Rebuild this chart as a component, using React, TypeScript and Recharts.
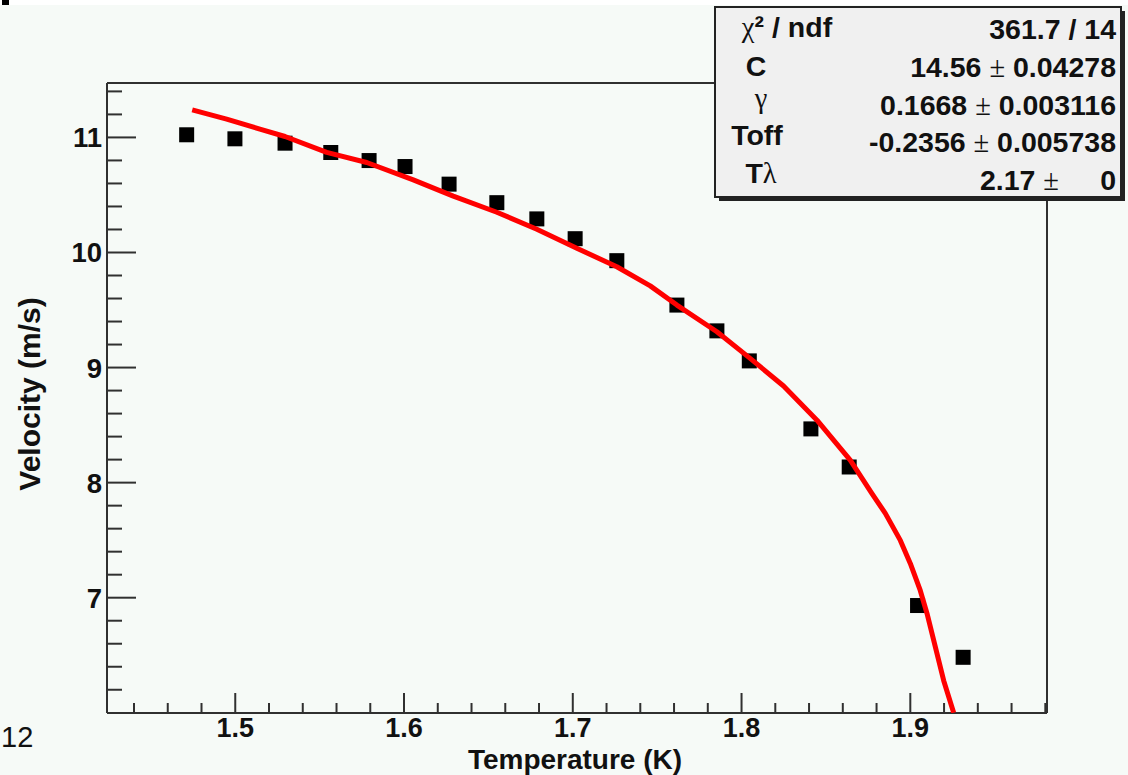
import React from 'react';
import { ScatterChart, Scatter, XAxis, YAxis, ReferenceLine } from 'recharts';

// Measured data (Temperature in K, Velocity in m/s)
const temperature = [1.4712, 1.4998, 1.5295, 1.5566, 1.5793, 1.6006, 1.6267, 1.655, 1.6787, 1.7014, 1.7261, 1.7617, 1.7854, 1.8046, 1.8411, 1.8638, 1.9043, 1.9313];
const velocity = [11.023, 10.988, 10.95, 10.869, 10.799, 10.747, 10.594, 10.433, 10.292, 10.12, 9.929, 9.543, 9.319, 9.058, 8.467, 8.136, 6.932, 6.482];

// Fit curve
const fitT = [1.4745, 1.4949, 1.5146, 1.5295, 1.5542, 1.5779, 1.6055, 1.6292, 1.655, 1.6787, 1.7024, 1.7261, 1.7459, 1.7617, 1.7854, 1.8051, 1.8249, 1.8447, 1.8644, 1.8773, 1.8852, 1.8941, 1.9, 1.9059, 1.9099, 1.9198, 1.9257];
const fitV = [11.24, 11.159, 11.072, 11.008, 10.87, 10.782, 10.631, 10.49, 10.35, 10.202, 10.037, 9.876, 9.71, 9.543, 9.311, 9.08, 8.84, 8.543, 8.195, 7.904, 7.733, 7.498, 7.298, 7.063, 6.863, 6.279, 6.0];

const xMajor = [1.5, 1.6, 1.7, 1.8, 1.9];
const xMinor = [1.44, 1.46, 1.48, 1.52, 1.54, 1.56, 1.58, 1.62, 1.64, 1.66, 1.68, 1.72, 1.74, 1.76, 1.78, 1.82, 1.84, 1.86, 1.88, 1.92, 1.94, 1.96, 1.98];
const yMajor = [7, 8, 9, 10, 11];
const yMinor = [6.2, 6.4, 6.6, 6.8, 7.2, 7.4, 7.6, 7.8, 8.2, 8.4, 8.6, 8.8, 9.2, 9.4, 9.6, 9.8, 10.2, 10.4, 10.6, 10.8, 11.2, 11.4];
const xDomain = [1.424, 1.981];
const yDomain = [5.998, 11.473];

const statLabels = ['χ² / ndf', 'C', 'γ', 'Toff', 'Tλ'];
const statValues = ['361.7 / 14', '14.56 ± 0.04278', '0.1668 ± 0.003116', '-0.2356 ± 0.005738', '2.17 ±', '0'];

const points = temperature.map((t, i) => ({ t, v: velocity[i] }));
const fit = fitT.map((t, i) => ({ t, v: fitV[i] }));

const FONT = '"Liberation Sans", Arial, Helvetica, sans-serif';
const AX = '#303030';

const isMajor = (arr: number[], v: number) => arr.some((m) => Math.abs(m - v) < 1e-6);

const XTick = (props: any) => {
  const { x, y, payload } = props;
  const major = isMajor(xMajor, payload.value);
  const len = major ? 20 : 10;
  return (
    <g>
      <line x1={x} y1={y} x2={x} y2={y - len} stroke={AX} strokeWidth={2} />
      {major && (
        <text x={x} y={y + 24} textAnchor="middle" fontFamily={FONT} fontWeight="bold" fontSize={27} fill="#111">
          {payload.value.toFixed(1)}
        </text>
      )}
    </g>
  );
};

const YTick = (props: any) => {
  const { x, y, payload } = props;
  const major = isMajor(yMajor, payload.value);
  const len = major ? 29 : 15;
  return (
    <g>
      <line x1={x} y1={y} x2={x + len} y2={y} stroke={AX} strokeWidth={2} />
      {major && (
        <text x={x - 5} y={y + 10} textAnchor="end" fontFamily={FONT} fontWeight="bold" fontSize={27.5} fill="#111">
          {String(payload.value)}
        </text>
      )}
    </g>
  );
};

const Square = (props: any) => {
  const { cx, cy } = props;
  return <rect x={cx - 7.5} y={cy - 7.5} width={15} height={15} fill="#000" />;
};

const NoShape = () => <g />;

const serif = '"Liberation Serif", "DejaVu Serif", serif';

export default function App() {
  const labelX = [787, 756, 761, 757, 761];
  const labelY = [37, 76, 108, 145, 183];
  const valueY = [39, 77, 115, 152, 190];
  const SF = 28.5;
  const renderValue = (s: string) => {
    const parts = s.split('±');
    if (parts.length === 1) return s;
    return (
      <>
        {parts[0]}
        <tspan fontFamily={serif} fontWeight="normal">±</tspan>
        {parts[1]}
      </>
    );
  };
  const renderLabel = (s: string) => {
    const out: any[] = [];
    for (let i = 0; i < s.length; i++) {
      const c = s[i];
      if (c === 'χ' || c === 'γ' || c === 'λ') {
        out.push(
          <tspan key={i} fontFamily={serif} fontWeight="normal">{c}</tspan>
        );
      } else {
        out.push(<tspan key={i}>{c}</tspan>);
      }
    }
    return out;
  };
  return (
    <div style={{ position: 'absolute', left: 0, top: 0, width: 1128, height: 775, background: '#f6faf7', overflow: 'hidden' }}>
      <ScatterChart width={1128} height={775} margin={{ top: 83, right: 81, left: 0, bottom: 0 }}>
        <XAxis
          type="number"
          dataKey="t"
          domain={xDomain}
          allowDataOverflow
          ticks={[...xMajor, ...xMinor].sort((a, b) => a - b)}
          interval={0}
          tick={<XTick />}
          tickLine={false}
          tickSize={0}
          tickMargin={0}
          height={62}
          axisLine={{ stroke: AX, strokeWidth: 2 }}
        />
        <YAxis
          type="number"
          dataKey="v"
          domain={yDomain}
          allowDataOverflow
          ticks={[...yMajor, ...yMinor].sort((a, b) => a - b)}
          interval={0}
          tick={<YTick />}
          tickLine={false}
          tickSize={0}
          tickMargin={0}
          width={107}
          axisLine={{ stroke: AX, strokeWidth: 2 }}
        />
        <ReferenceLine y={yDomain[1]} stroke={AX} strokeWidth={2} />
        <ReferenceLine x={xDomain[1]} stroke={AX} strokeWidth={2} />
        <Scatter data={points} shape={<Square />} isAnimationActive={false} />
        <Scatter
          data={fit}
          shape={<NoShape />}
          line={{ stroke: '#ff0000', strokeWidth: 5, strokeLinejoin: 'round' }}
          lineJointType="linear"
          isAnimationActive={false}
        />
      </ScatterChart>
      <svg width={1128} height={775} style={{ position: 'absolute', left: 0, top: 0, pointerEvents: 'none' }}>
        <rect x={0} y={0} width={1128} height={5} fill="#ffffff" />
        <rect x={2} y={0} width={7} height={5} fill="#000" />
        <text x={1} y={747} fontFamily={FONT} fontSize={29} fill="#111">12</text>
        <text x={575} y={768.5} textAnchor="middle" fontFamily={FONT} fontWeight="bold" fontSize={28} fill="#111">
          Temperature (K)
        </text>
        <text
          x={0}
          y={0}
          transform="translate(40,394) rotate(-90)"
          textAnchor="middle"
          fontFamily={FONT}
          fontWeight="bold"
          fontSize={30}
          fill="#111"
        >
          Velocity (m/s)
        </text>
        {/* stats box */}
        <rect x={719} y={11} width={406} height={190} fill="#222" />
        <rect x={715} y={7} width={406} height={190} fill="#f0f0f0" stroke="#222" strokeWidth={2} />
        {statLabels.map((s, i) => (
          <text key={s} x={labelX[i]} y={labelY[i]} textAnchor="middle" fontFamily={FONT} fontWeight="bold" fontSize={SF} fill="#111">
            {renderLabel(s)}
          </text>
        ))}
        {statValues.slice(0, 4).map((s, i) => (
          <text key={s} x={1116} y={valueY[i]} textAnchor="end" fontFamily={FONT} fontWeight="bold" fontSize={SF} fill="#111">
            {renderValue(s)}
          </text>
        ))}
        <text x={1059} y={valueY[4]} textAnchor="end" fontFamily={FONT} fontWeight="bold" fontSize={SF} fill="#111">
          {renderValue(statValues[4])}
        </text>
        <text x={1116} y={valueY[4]} textAnchor="end" fontFamily={FONT} fontWeight="bold" fontSize={SF} fill="#111">
          {statValues[5]}
        </text>
      </svg>
    </div>
  );
}
